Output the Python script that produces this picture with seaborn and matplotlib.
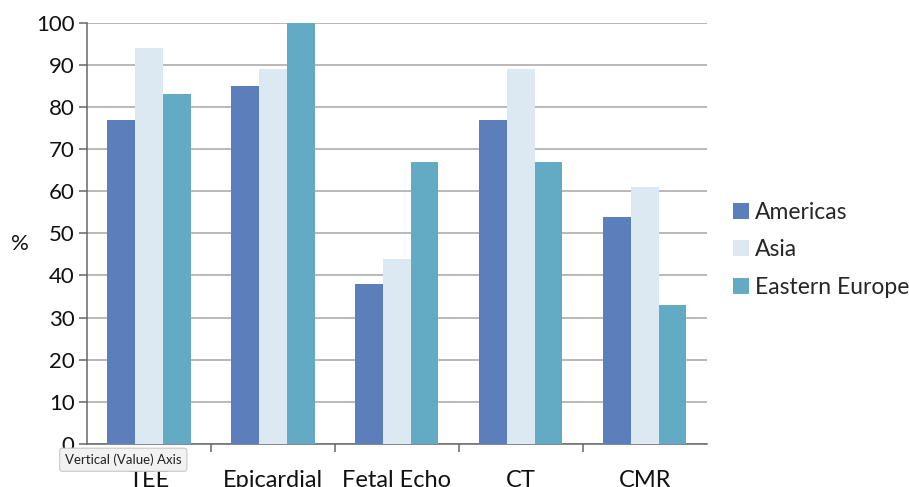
import matplotlib
matplotlib.use("Agg")
import matplotlib.pyplot as plt
from matplotlib.patches import Patch
import seaborn as sns
import pandas as pd
import numpy as np

categories = ["TEE", "Epicardial", "Fetal Echo", "CT", "CMR"]
regions = ["Americas", "Asia", "Eastern Europe"]
americas = [77, 85, 38, 77, 54]
asia = [94, 89, 44, 89, 61]
eastern_europe = [83, 100, 67, 67, 33]
yticks = [0, 10, 20, 30, 40, 50, 60, 70, 80, 90, 100]

colors = ["#5b7fba", "#dde9f2", "#63abc5"]

df = pd.DataFrame({
    "Category": categories * 3,
    "Region": sum([[r] * len(categories) for r in regions], []),
    "Value": americas + asia + eastern_europe,
})

sns.set_theme(style="white")
plt.rcParams["font.family"] = ["Lato", "DejaVu Sans"]

fig = plt.figure(figsize=(9.09, 4.87), dpi=100)
ax = fig.add_axes([0.0957, 0.0883, 0.682, 0.865])

sns.barplot(data=df, x="Category", y="Value", hue="Region", order=categories,
            hue_order=regions, palette=colors, width=0.67, saturation=1,
            linewidth=0, ax=ax, legend=False, zorder=3)

ax.set_ylim(0, 100)
ax.set_xlim(-0.5, len(categories) - 0.5)
ax.set_yticks(yticks)
ax.set_yticklabels([str(t) for t in yticks], fontsize=16, color="#111111")
ax.yaxis.grid(True, color="#a6a6a6", linewidth=1.1, zorder=0)
ax.set_axisbelow(True)

for side in ["top", "right"]:
    ax.spines[side].set_visible(False)
ax.spines["left"].set_color("#666666")
ax.spines["bottom"].set_color("#666666")
ax.spines["left"].set_linewidth(1.1)
ax.spines["bottom"].set_linewidth(1.1)

ax.tick_params(axis="y", which="major", left=True, length=6, width=1.1,
               color="#666666", pad=3)
# category labels without ticks; separators drawn as minor ticks
ax.set_xticks(range(len(categories)))
ax.set_xticklabels(categories, fontsize=17, color="#111111")
ax.tick_params(axis="x", which="major", bottom=False, pad=13)
ax.set_xticks(np.arange(0.5, len(categories) - 0.5, 1.0), minor=True)
ax.tick_params(axis="x", which="minor", bottom=True, length=6, width=1.1,
               color="#666666")

ax.set_xlabel("")
ax.set_ylabel("%", fontsize=16, rotation=0, color="#111111")
ax.yaxis.set_label_coords(-0.108, 0.45)

handles = [Patch(facecolor=c, edgecolor="none") for c in colors]
fig.legend(handles, regions, loc="center left", bbox_to_anchor=(0.784, 0.487),
           frameon=False, fontsize=16.5, handlelength=0.7, handleheight=0.7,
           handletextpad=0.25, labelspacing=0.72)

fig.text(0.0715, 0.056, "Vertical (Value) Axis", fontsize=9.5, color="#222222",
         ha="left", va="center", zorder=10,
         bbox=dict(boxstyle="round,pad=0.4,rounding_size=0.2",
                   facecolor="#f2f2f2", edgecolor="#c8c8c8", linewidth=0.8))

fig.savefig("out.png", dpi=100)
